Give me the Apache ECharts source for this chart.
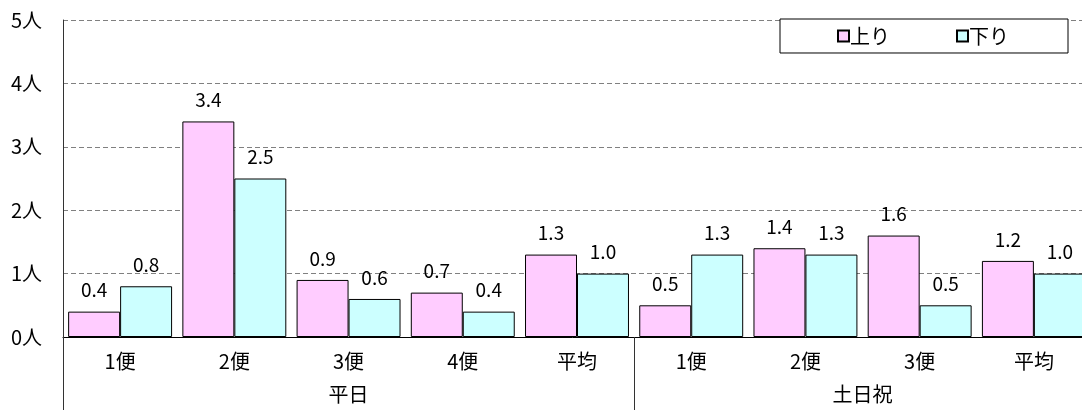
<!DOCTYPE html>
<html>
<head>
<meta charset="utf-8">
<script src="https://cdn.jsdelivr.net/npm/echarts@6/dist/echarts.min.js"></script>
<style>
  html, body { margin: 0; padding: 0; background: #fff; overflow: hidden; }
  #chart { width: 1082px; height: 410px; }
</style>
</head>
<body>
<div id="chart"></div>
<script>
// Trip categories (平日: 1便〜平均, 土日祝: 1便〜平均)
const categories = ['1便', '2便', '3便', '4便', '平均', '1便', '2便', '3便', '平均'];
// Passengers per trip
const upValues   = [0.4, 3.4, 0.9, 0.7, 1.3, 0.5, 1.4, 1.6, 1.2];
const downValues = [0.8, 2.5, 0.6, 0.4, 1.0, 1.3, 1.3, 0.5, 1.0];
const seriesNames = ['上り', '下り'];
// Group axis: half-category steps across the plot; group names sit at group centres
const groupSlots = ['', '', '', '', '', '平日', '', '', '', '', '', '', '', '', '土日祝', '', '', '', ''];
const groupBoundaries = [0, 10, 18];
const yTicks = [0, 1, 2, 3, 4, 5];

const FONT = '"Noto Sans CJK JP", "Noto Sans", sans-serif';
const chart = echarts.init(document.getElementById('chart'));

const labelCfg = {
  show: true,
  position: 'top',
  distance: 12,
  color: '#000',
  fontSize: 19,
  fontFamily: FONT,
  formatter: p => p.value.toFixed(1)
};

chart.setOption({
  animation: false,
  backgroundColor: '#fff',
  textStyle: { fontFamily: FONT },
  // the plot area runs slightly past the right edge of the canvas
  grid: { left: 63, top: 20, width: 1028, bottom: 73, containLabel: false, outerBoundsMode: 'none' },
  legend: {
    data: seriesNames,
    left: 780,
    top: 19,
    orient: 'horizontal',
    backgroundColor: '#fff',
    borderColor: '#000',
    borderWidth: 1,
    borderRadius: 0,
    padding: [7, 59, 7, 57],
    itemGap: 66,
    itemWidth: 11,
    itemHeight: 11,
    icon: 'rect',
    textStyle: { fontSize: 20, color: '#000', fontFamily: FONT, padding: [0, 0, 0, -4] }
  },
  xAxis: [
    {
      type: 'category',
      data: categories,
      position: 'bottom',
      axisLine: { show: true, lineStyle: { color: '#000', width: 1 } },
      axisTick: { show: false },
      axisLabel: { color: '#000', fontSize: 20, fontFamily: FONT, margin: 14, interval: 0 },
      splitLine: { show: false }
    },
    {
      type: 'category',
      data: groupSlots,
      position: 'bottom',
      boundaryGap: false,
      axisLine: { show: false },
      axisTick: {
        show: true,
        length: 73,
        interval: (idx) => groupBoundaries.includes(idx),
        lineStyle: { color: '#333', width: 1 }
      },
      axisLabel: { color: '#000', fontSize: 20, fontFamily: FONT, margin: 47, interval: 0 },
      splitLine: { show: false }
    }
  ],
  yAxis: {
    type: 'value',
    min: yTicks[0],
    max: yTicks[yTicks.length - 1],
    interval: 1,
    axisLine: { show: true, lineStyle: { color: '#333', width: 1 } },
    axisTick: { show: false },
    axisLabel: { color: '#000', fontSize: 20, fontFamily: FONT, margin: 21, formatter: '{value}人' },
    splitLine: { show: true, lineStyle: { color: '#808080', type: [5, 3], width: 1 } }
  },
  series: [
    {
      name: seriesNames[0],
      type: 'bar',
      xAxisIndex: 0,
      data: upValues,
      barGap: 0,
      barCategoryGap: '9%',
      itemStyle: { color: '#FFCCFF', borderColor: '#000', borderWidth: 1 },
      label: labelCfg
    },
    {
      name: seriesNames[1],
      type: 'bar',
      xAxisIndex: 0,
      data: downValues,
      barGap: 0,
      barCategoryGap: '9%',
      itemStyle: { color: '#CCFFFF', borderColor: '#000', borderWidth: 1 },
      label: labelCfg
    }
  ]
});
</script>
</body>
</html>
